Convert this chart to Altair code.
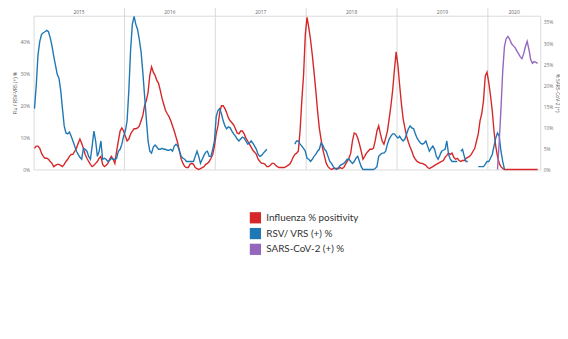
import altair as alt
import pandas as pd

years = [2015, 2016, 2017, 2018, 2019, 2020]
week_ticks = [4, 10, 16, 22, 28, 34, 40, 46, 52]
weeks_2020 = 29
series_names = ["Influenza % positivity", "RSV/ VRS (+) %", "SARS-CoV-2 (+) %"]
series_colors = ["#d62728", "#1f77b4", "#9467bd"]
left_ticks = [0, 10, 20, 30, 40]
right_ticks = [0, 5, 10, 15, 20, 25, 30, 35]

flu_2015 = [6.6, 7.3, 7.3, 6.6, 5.1, 4.1, 3.5, 3.5, 3.2, 2.5,
            1.9, 0.9, 1.3, 1.6, 1.6, 1.3, 0.9, 1.6, 2.5, 3.2,
            4.1, 4.7, 4.7, 5.7, 6.6, 8.2, 9.5, 8.2, 6.6, 4.7,
            3.5, 2.5, 1.6, 0.9, 1.3, 1.9, 2.5, 3.5, 4.1, 1.6,
            0.9, 1.3, 1.9, 3.2, 4.1, 3.2, 1.9, 5.7, 8.9, 12.0, 13.0, 12.0]
flu_2016 = [10.4, 8.9, 9.5, 11.1, 12.0, 12.7, 12.7, 13.0, 13.6, 15.2,
            16.8, 19.9, 21.5, 24.1, 29.4, 32.0, 30.4, 29.4, 27.8, 26.9,
            24.7, 22.2, 20.3, 18.4, 17.4, 16.5, 15.2, 13.6, 12.0, 10.1,
            8.2, 5.7, 3.2, 1.9, 0.9, 0.6, 0.6, 1.6, 1.9, 1.6,
            0.6, 0.3, 0.0, 0.3, 0.6, 0.9, 1.6, 1.9, 2.5, 3.5, 4.7, 7.3]
flu_2017 = [11.1, 13.6, 17.7, 19.9, 19.9, 19.0, 17.7, 16.1, 15.2, 14.6,
            13.9, 12.7, 11.4, 11.1, 12.0, 12.0, 11.1, 9.8, 8.9, 7.9,
            7.0, 6.0, 5.4, 4.7, 3.2, 2.5, 1.9, 1.9, 1.6, 0.9,
            0.9, 1.3, 1.9, 1.9, 1.3, 0.9, 0.6, 0.6, 0.6, 0.6,
            0.9, 1.3, 1.6, 2.5, 3.8, 4.7, 5.1, 5.7, 12.0, 21.5, 29.4, 42.1]
flu_2018 = [47.5, 44.3, 40.5, 35.8, 30.4, 24.7, 18.4, 13.0, 9.5, 6.3,
            4.1, 1.9, 0.9, 0.3, 0.0, 0.3, 0.3, 0.3, 0.3, 0.6,
            0.3, 0.6, 1.6, 2.5, 3.5, 5.1, 8.9, 11.4, 11.1, 9.8,
            7.9, 5.7, 3.2, 4.1, 5.1, 5.7, 6.3, 6.3, 6.6, 8.9,
            12.0, 13.6, 11.1, 8.9, 7.9, 9.8, 12.0, 15.8, 19.9, 24.7, 31.0, 36.7]
flu_2019 = [32.6, 26.3, 20.6, 15.8, 13.0, 10.4, 8.5, 7.0, 5.7, 4.1,
            3.2, 2.5, 2.2, 1.9, 1.9, 1.6, 1.3, 0.6, 0.3, 0.6,
            0.9, 1.3, 1.6, 1.9, 2.2, 2.5, 2.8, 3.8, 4.4, 5.1,
            4.7, 5.1, 3.8, 3.2, 3.5, 2.8, 2.5, 2.8, 2.8, 3.5,
            3.8, 4.1, 4.7, 5.7, 6.6, 8.9, 11.1, 15.2, 17.4, 21.5, 29.1, 30.4]
flu_2020 = [27.2, 23.1, 18.4, 12.0, 7.3, 4.1, 1.9, 0.9, 0.3, 0.0,
            0.0, 0.0, 0.0, 0.0, 0.0, 0.0, 0.0, 0.0, 0.0, 0.0,
            0.0, 0.0, 0.0, 0.0, 0.0, 0.0, 0.0, 0.0, 0.0]

rsv_2015 = [19.0, 26.2, 35.8, 39.9, 42.1, 42.7, 43.0, 43.4, 43.0, 41.1,
            38.6, 35.4, 32.6, 29.7, 28.5, 24.7, 19.0, 13.6, 11.4, 11.1,
            11.7, 10.4, 8.9, 7.3, 5.7, 4.7, 3.8, 3.2, 6.6, 6.3,
            5.7, 4.1, 3.2, 7.3, 12.0, 8.9, 4.1, 5.7, 8.9, 3.2,
            3.5, 3.2, 2.5, 2.8, 3.5, 3.2, 3.2, 3.5, 5.7, 6.3, 7.9, 10.4]
rsv_2016 = [12.0, 15.2, 24.7, 37.3, 45.3, 47.8, 45.3, 43.7, 40.5, 36.7,
            30.4, 23.1, 15.8, 8.9, 5.7, 5.1, 7.0, 7.6, 7.0, 6.3,
            6.3, 6.6, 6.3, 6.3, 6.0, 6.0, 6.3, 5.7, 7.3, 7.9,
            7.3, 5.7, 4.1, 3.5, 3.2, 2.5, 2.5, 2.5, 2.5, 2.5,
            4.1, 5.7, 4.1, 1.9, 3.2, 4.4, 5.4, 5.7, 4.1, 4.1, 6.3, 8.9]
rsv_2017 = [16.5, 18.4, 19.0, 17.4, 15.2, 13.6, 12.7, 13.3, 13.0, 12.0,
            11.1, 10.4, 9.5, 8.9, 9.5, 10.1, 9.8, 8.9, 7.9, 8.2,
            8.9, 8.2, 7.3, 6.3, 4.7, 4.1, 4.4, 5.1, 5.7, 6.3,
            None, None, None, None, None, None, None, None, None, None,
            None, None, None, None, None, 7.9, 8.9, 8.9, 7.9, 7.3, 6.6, 5.7]
rsv_2018 = [3.5, 3.2, 2.5, 3.2, 4.1, 4.7, 5.7, 6.3, 8.2, 7.6,
            6.3, 5.7, 4.1, 2.5, 1.9, 0.9, 0.3, 0.0, 0.6, 1.3,
            1.6, 1.9, 2.5, 3.2, 3.2, 2.5, 1.9, 2.5, 3.5, 4.1,
            2.5, 0.9, 0.0, 0.0, 0.0, 0.0, 0.0, 0.0, 0.0, 0.3,
            0.9, 4.1, 4.7, 5.1, 5.1, 5.7, 7.9, 9.5, 10.4, 11.1, 11.1, 10.4]
rsv_2019 = [9.8, 10.4, 9.5, 8.9, 9.5, 11.1, 12.7, 13.6, 13.0, 12.7,
            11.1, 9.8, 8.9, 8.2, 7.9, 8.2, 8.9, 7.3, 5.7, 6.6,
            7.3, 6.3, 4.1, 3.2, 4.4, 5.7, 6.0, 6.3, 8.9, 4.7,
            3.2, 2.5, 2.5, 2.5, 2.5, None, 5.7, 6.3, 4.1, 2.5,
            2.5, None, None, None, None, None, 0.9, 0.9, 0.9, 0.9, 1.6, 2.5]
rsv_2020 = [2.5, 3.5, 4.7, 7.3, 9.8, 11.4, 10.4, 5.7, 2.5, 0.0,
            None, None, None, None, None, None, None, None, None, None,
            None, None, None, None, None, None, None, None, None]

covid_2020 = [None, None, None, None, None, 0.0, 6.6, 14.5, 23.3, 29.2,
              31.1, 31.6, 30.9, 29.9, 29.4, 29.0, 28.2, 27.5, 26.8, 26.3,
              27.5, 29.2, 30.4, 28.5, 26.1, 25.2, 25.6, 25.4, 25.2]

flu_by_year = [flu_2015, flu_2016, flu_2017, flu_2018, flu_2019, flu_2020]
rsv_by_year = [rsv_2015, rsv_2016, rsv_2017, rsv_2018, rsv_2019, rsv_2020]


def week_pos(k, w):
    return 52 * k + w - 0.5


rows = []
for k, (fl, rs) in enumerate(zip(flu_by_year, rsv_by_year)):
    for i, v in enumerate(fl):
        rows.append({"t": week_pos(k, i + 1), "value": v, "series": series_names[0]})
    for i, v in enumerate(rs):
        rows.append({"t": week_pos(k, i + 1), "value": v, "series": series_names[1]})
fr_df = pd.DataFrame(rows)

cov_df = pd.DataFrame({
    "t": [week_pos(5, i + 1) for i in range(len(covid_2020))],
    "value": covid_2020,
    "series": series_names[2],
})

x_end = 52 * 5 + weeks_2020 + 1
tick_vals = [week_pos(k, w) for k in range(len(years)) for w in week_ticks
             if k < 5 or w <= weeks_2020]
year_df = pd.DataFrame({
    "year": [str(y) for y in years],
    "mid": [52 * k + (min(52 * (k + 1), x_end) - 52 * k) / 2 for k in range(len(years))],
})
div_df = pd.DataFrame({"t": [52 * k for k in range(1, len(years))]})
legend_df = pd.DataFrame({"series": series_names})

xscale = alt.Scale(domain=[0, x_end], nice=False, zero=False)
cscale = alt.Scale(domain=series_names, range=series_colors)
label_font = "Open Sans"
lab_col = "#777777"

legend = alt.Legend(
    title=None, orient="none", legendX=219, legendY=199,
    symbolType="square", symbolSize=130, symbolOpacity=1, symbolStrokeWidth=0,
    labelFontSize=10, labelFont="Lato", labelColor="#333333",
    rowPadding=4, labelOffset=5, padding=0,
)

legend_layer = alt.Chart(legend_df).mark_square(filled=True, opacity=0, size=1).encode(
    x=alt.value(0), y=alt.value(0),
    color=alt.Color("series:N", scale=cscale, legend=legend),
)

div_layer = alt.Chart(div_df).mark_rule(color="#d9d9d9", strokeWidth=1).encode(
    x=alt.X("t:Q", scale=xscale, axis=None),
    y=alt.value(-8), y2=alt.value(156),
)

year_layer = alt.Chart(year_df).mark_text(
    fontSize=5, font=label_font, color="#666666", baseline="middle"
).encode(
    x=alt.X("mid:Q", scale=xscale, axis=None),
    y=alt.value(-3.5),
    text="year:N",
)

fr_layer = alt.Chart(fr_df).mark_line(strokeWidth=1.4).encode(
    x=alt.X("t:Q", scale=xscale, axis=alt.Axis(
        values=tick_vals, labelExpr="((datum.value - 0.5) % 52) + 1",
        labelFontSize=5, labelFont=label_font, labelColor=lab_col,
        ticks=False, domain=False, grid=False, labelPadding=4,
        labelOverlap=False, labelFlush=False, title=None)),
    y=alt.Y("value:Q", scale=alt.Scale(domain=[0, 48], nice=False), axis=alt.Axis(
        values=left_ticks, labelExpr="datum.value + '%'",
        labelFontSize=5, labelFont=label_font, labelColor=lab_col,
        ticks=False, domain=False, grid=False, labelPadding=4,
        title="Flu / RSV-VRS (+) %", titleFontSize=5, titleFont=label_font,
        titleColor="#555555", titleFontWeight="normal", titlePadding=3)),
    color=alt.Color("series:N", scale=cscale, legend=legend),
    detail="series:N",
)

cov_layer = alt.Chart(cov_df).mark_line(strokeWidth=1.4).encode(
    x=alt.X("t:Q", scale=xscale, axis=None),
    y=alt.Y("value:Q", scale=alt.Scale(domain=[0, 36.5], nice=False), axis=alt.Axis(
        orient="right", values=right_ticks, labelExpr="datum.value + '%'",
        labelFontSize=5, labelFont=label_font, labelColor=lab_col,
        ticks=False, domain=False, grid=False, labelPadding=3,
        title="% SARS-CoV-2 (+)", titleFontSize=5, titleFont=label_font,
        titleColor="#555555", titleFontWeight="normal", titlePadding=2)),
    color=alt.Color("series:N", scale=cscale, legend=legend),
)

chart = alt.layer(
    legend_layer, div_layer, year_layer, fr_layer, cov_layer
).resolve_scale(y="independent").properties(
    width=514, height=156,
    autosize=alt.AutoSizeParams(type="none"),
    padding={"left": 26, "top": 6, "right": 20, "bottom": 90},
).configure_view(stroke="#d9d9d9", strokeWidth=1)

chart.save("out.html", embed_options={"renderer": "svg", "actions": False})
